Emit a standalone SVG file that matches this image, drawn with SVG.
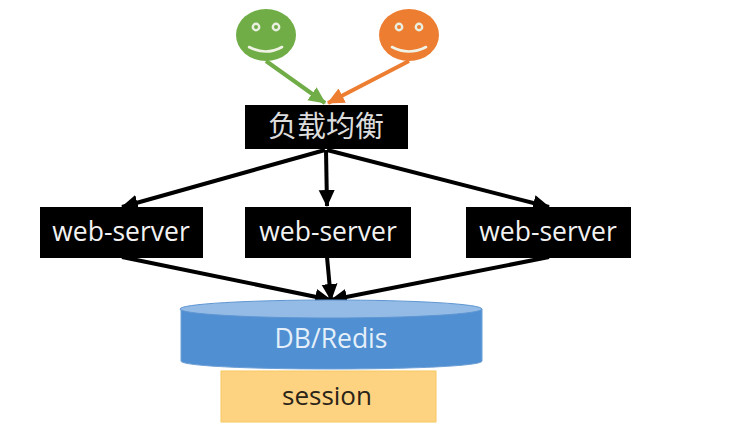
<svg xmlns="http://www.w3.org/2000/svg" width="733" height="434" viewBox="0 0 733 434">
<style>
.box{fill:#000}
.t{font-family:"Open Sans","Noto Sans","Noto Sans CJK SC",sans-serif;text-anchor:middle}
.w{fill:#f2f2f2;font-size:26.5px}
.k{stroke:#000;stroke-width:4;fill:none}
.eye{fill:none;stroke:#e8efe0;stroke-width:2.4}
.sm{fill:none;stroke:#f0f3e6;stroke-width:2.6;stroke-linecap:round}
</style>
<defs>
<marker id="ak" markerUnits="userSpaceOnUse" markerWidth="20" markerHeight="18" refX="16" refY="9" orient="auto"><path d="M0 1L17 9L0 17z" fill="#000"/></marker>
<marker id="ag" markerUnits="userSpaceOnUse" markerWidth="20" markerHeight="18" refX="16" refY="9" orient="auto"><path d="M0 1L17 9L0 17z" fill="#70ad47"/></marker>
<marker id="ao" markerUnits="userSpaceOnUse" markerWidth="20" markerHeight="18" refX="16" refY="9" orient="auto"><path d="M0 1L17 9L0 17z" fill="#ed7d31"/></marker>
</defs>
<rect width="733" height="434" fill="#fff"/>
<g id="connectors">
<path d="M266 61L325 103" stroke="#70ad47" stroke-width="4" fill="none" marker-end="url(#ag)"/>
<path d="M409 61L328 103" stroke="#ed7d31" stroke-width="4" fill="none" marker-end="url(#ao)"/>
<path class="k" d="M325 150L122 207" marker-end="url(#ak)"/>
<path class="k" d="M326 150L327 206" marker-end="url(#ak)"/>
<path class="k" d="M327 150L549 207" marker-end="url(#ak)"/>
<path class="k" d="M122 257L331 300" marker-end="url(#ak)"/>
<path class="k" d="M327 257L331 300" marker-end="url(#ak)"/>
<path class="k" d="M549 257L331 300" marker-end="url(#ak)"/>
</g>
<g id="user-green">
<ellipse cx="266" cy="35" rx="30" ry="26" fill="#70ad47"/>
<circle cx="256" cy="27" r="3.2" class="eye"/><circle cx="276" cy="27" r="3.2" class="eye"/>
<path class="sm" d="M249 47Q266 56 282 47"/>
</g>
<g id="user-orange">
<ellipse cx="409" cy="35" rx="30" ry="26" fill="#ed7d31"/>
<circle cx="399" cy="27" r="3.2" class="eye"/><circle cx="419" cy="27" r="3.2" class="eye"/>
<path class="sm" d="M392 47Q409 56 426 47"/>
</g>
<g id="lb">
<rect class="box" x="245" y="105" width="163" height="44"/>
<text class="t" x="326" y="137" fill="#dcdcdc" font-size="29" style="font-family:'Noto Sans CJK SC',sans-serif">负载均衡</text>
</g>
<g id="web1"><rect class="box" x="40" y="207" width="163" height="51"/><text class="t w" x="121" y="241">web-server</text></g>
<g id="web2"><rect class="box" x="245" y="207" width="166" height="51"/><text class="t w" x="328" y="241">web-server</text></g>
<g id="web3"><rect class="box" x="466" y="207" width="165" height="51"/><text class="t w" x="548" y="241">web-server</text></g>
<g id="db">
<path d="M181 309V361C181 366 250 369 331 369S482 366 482 361V309z" fill="#4f8fd2" stroke="#6d9fd6" stroke-width="1"/>
<ellipse cx="331" cy="309" rx="151" ry="9" fill="#93bbe6" stroke="#5f96d2" stroke-width="1"/>
<text class="t" x="331" y="348" fill="#e4effa" font-size="26.5">DB/Redis</text>
</g>
<g id="session">
<rect x="221" y="371" width="215" height="51" fill="#fdd280" stroke="#f7c862" stroke-width="1"/>
<text class="t" x="327" y="405" fill="#2a2318" font-size="26">session</text>
</g>
</svg>
